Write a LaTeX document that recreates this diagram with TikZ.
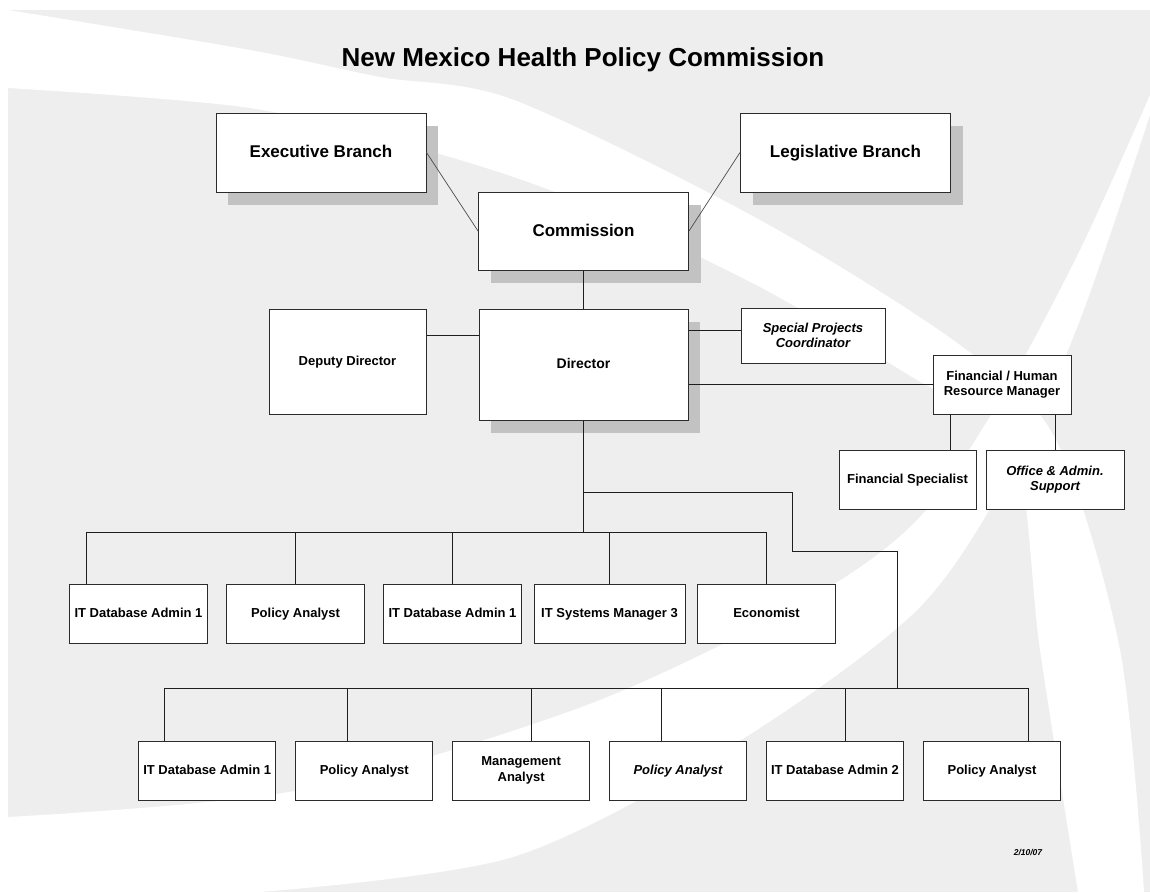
\documentclass[tikz,border=0pt]{standalone}
\usepackage{fontspec}
\setmainfont{Liberation Sans}
\usetikzlibrary{shadows}
\definecolor{bggray}{HTML}{EEEEEE}
\definecolor{shgray}{HTML}{C2C2C2}
\definecolor{bdr}{HTML}{2B2B2B}
\definecolor{lin}{HTML}{1E1E1E}
\begin{document}
\begin{tikzpicture}[x=1pt,y=-1pt,
  box/.style={draw=bdr, line width=1pt, fill=white, align=center, inner sep=2pt,
    minimum height=59pt, minimum width=138pt, font=\bfseries\fontsize{13}{15.5}\selectfont},
  oneline/.style={text height=9.4pt, text depth=1.4pt},
  bigbox/.style={box, minimum width=210pt, minimum height=79pt, text height=12.3pt, text depth=2pt,
    font=\bfseries\fontsize{17}{20}\selectfont},
  shad/.style={drop shadow={shadow xshift=12pt, shadow yshift=-13pt, fill=shgray, opacity=1}},
  conn/.style={draw=lin, line width=1pt},
  diag/.style={draw=lin!80, line width=0.7pt},
  titlestyle/.style={font=\bfseries\fontsize{26}{30}\selectfont},
  datestyle/.style={font=\bfseries\itshape\fontsize{8.5}{10}\selectfont}
]
\useasboundingbox (0,0) rectangle (1150,892);
% background
\fill[white] (0,0) rectangle (1150,892);
\fill[bggray] (8,10) rectangle (1150,892);
\fill[white] plot[smooth] coordinates {(8,10) (250,50) (380,77) (514,100) (760,220) (960,345) (1056,440) (1120,650) (1144,892)}
  -- plot[smooth] coordinates {(1078,892) (1040,650) (1012,440) (917,380) (760,287) (575,200) (436,153) (250,108) (8,88)} -- cycle;
\fill[white] plot[smooth] coordinates {(1150,95) (1080,250) (1000,400) (917,520) (807,600) (587,705) (300,790) (8,817)}
  -- (8,892) -- plot[smooth] coordinates {(260,892) (513,857) (733,745) (917,610) (1012,470) (1080,320) (1150,115)} -- cycle;

% title
\node[titlestyle] (title) at (583,60) {New Mexico Health Policy Commission};

% top
\node[bigbox, shad] (exec) at (321,152.5) {Executive Branch};
\node[bigbox, shad] (leg) at (845.5,152.5) {Legislative Branch};
\node[bigbox, shad, minimum height=78pt] (comm) at (583.5,231) {Commission};
\node[box, shad, minimum width=209pt, minimum height=111pt, text height=10.1pt, text depth=1.5pt,
  font=\bfseries\fontsize{14}{16}\selectfont] (dir) at (583.5,364.5) {Director};
\node[box, oneline, minimum width=157pt, minimum height=105pt] (dep) at (347.5,361.5) {Deputy Director};
\node[box, minimum width=144pt, minimum height=55pt, font=\bfseries\itshape\fontsize{13}{15.5}\selectfont] (spc) at (813,335.5) {Special Projects\\Coordinator};
\node[box] (fhrm) at (1002,384.5) {Financial / Human\\Resource Manager};
\node[box, oneline, minimum width=137pt] (fs) at (907.5,479.5) {Financial Specialist};
\node[box, font=\bfseries\itshape\fontsize{13}{15.5}\selectfont] (oas) at (1055,479.5) {Office \& Admin.\\Support};

% row 1
\node[box, oneline] (r1a) at (138.5,613.5) {IT Database Admin 1};
\node[box, oneline] (r1b) at (295.5,613.5) {Policy Analyst};
\node[box, oneline] (r1c) at (452.5,613.5) {IT Database Admin 1};
\node[box, oneline, minimum width=151pt] (r1d) at (609.5,613.5) {IT Systems Manager 3};
\node[box, oneline] (r1e) at (766.5,613.5) {Economist};

% row 2
\node[box, oneline, minimum width=137pt] (r2a) at (207.2,770.5) {IT Database Admin 1};
\node[box, oneline, minimum width=137pt] (r2b) at (364.2,770.5) {Policy Analyst};
\node[box, minimum width=137pt] (r2c) at (521.1,770.5) {Management\\Analyst};
\node[box, oneline, minimum width=137pt, font=\bfseries\itshape\fontsize{13}{15.5}\selectfont] (r2d) at (678,770.5) {Policy Analyst};
\node[box, oneline, minimum width=137pt] (r2e) at (835,770.5) {IT Database Admin 2};
\node[box, oneline, minimum width=137pt] (r2f) at (992,770.5) {Policy Analyst};

\node[datestyle] (date) at (1028,852) {2/10/07};

% connectors
\draw[diag] (exec.east) -- (comm.west);
\draw[diag] (leg.west) -- (comm.east);
\draw[conn] (comm.south) -- (dir.north);
\draw[conn] ([yshift=-26.6pt]dir.north west) -- ([yshift=-26.6pt]dir.north west -| dep.east);
\draw[conn] ([yshift=5.5pt]spc.west) -- ([yshift=5.5pt]spc.west -| dir.east);
\draw[conn] (fhrm.west) -- (fhrm.west -| dir.east);
\draw[conn] ([xshift=43pt]fs.north) -- ([xshift=43pt]fs.north |- fhrm.south);
\draw[conn] (oas.north) -- (oas.north |- fhrm.south);

\coordinate (j) at (583.5,492.6);
\coordinate (k1) at (792.8,551.8);
\coordinate (b1l) at (86.5,532);
\coordinate (b1r) at (766.4,532);
\coordinate (b2) at (897,688.3);
\draw[conn] (dir.south) -- (dir.south |- b1l);
\draw[conn] (j) -| (k1) -| (b2);
\draw[conn] (b1l) -- (b1r);
\draw[conn] (b1l) -- (b1l |- r1a.north);
\foreach \n in {r1b,r1c,r1d,r1e} \draw[conn] (\n.north) -- (\n.north |- b1l);

\coordinate (t2a) at (164.3,688.3);
\coordinate (t2b) at (347.6,688.3);
\coordinate (t2c) at (531,688.3);
\coordinate (t2d) at (661.5,688.3);
\coordinate (t2e) at (845.6,688.3);
\coordinate (t2f) at (1028,688.3);
\draw[conn] (t2a) -- (t2f);
\draw[conn] (t2a) -- (t2a |- r2a.north);
\draw[conn] (t2b) -- (t2b |- r2b.north);
\draw[conn] (t2c) -- (t2c |- r2c.north);
\draw[conn] (t2d) -- (t2d |- r2d.north);
\draw[conn] (t2e) -- (t2e |- r2e.north);
\draw[conn] (t2f) -- (t2f |- r2f.north);
\end{tikzpicture}
\end{document}
